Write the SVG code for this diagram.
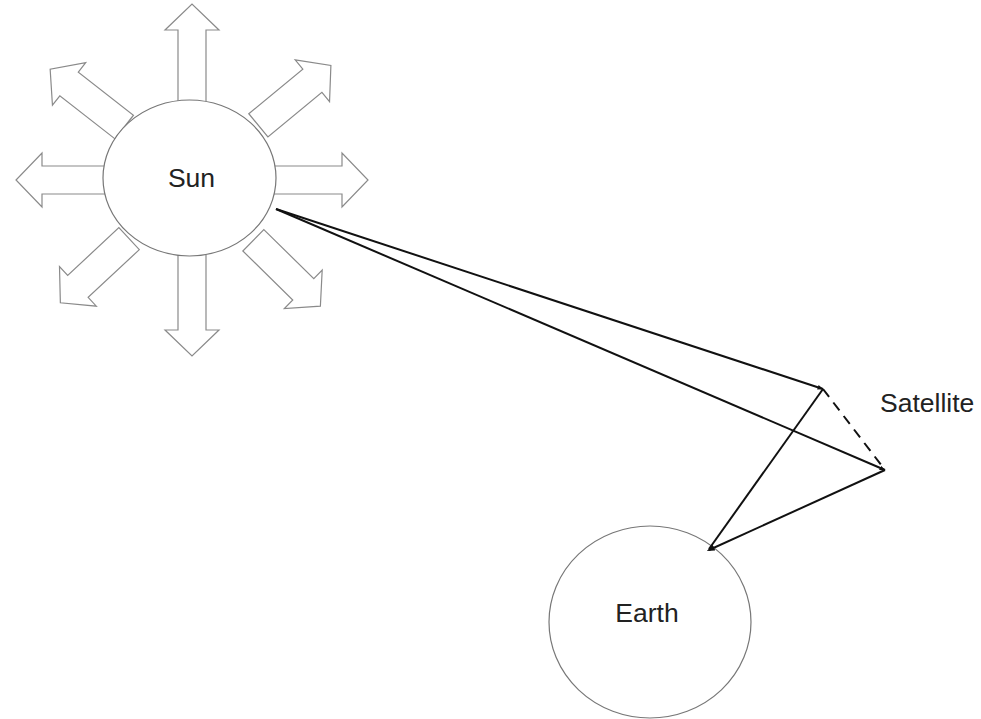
<svg xmlns="http://www.w3.org/2000/svg" width="981" height="719" viewBox="0 0 981 719">
<defs>
<style>
.ray{fill:#fff;stroke:#8a8a8a;stroke-width:1.2}
.body{fill:#fff;stroke:#777;stroke-width:1.2}
.lbl{font-family:"Liberation Sans",Arial,sans-serif;font-size:26.5px;fill:#222}
.ln{stroke:#111;stroke-width:2;fill:none}
</style>
<path id="ray" d="M60,-14 L150,-14 L150,-27 L176,0 L150,27 L150,14 L60,14 Z"/>
<path id="rayd" d="M86,-15 L156,-15 L156,-27 L180,0 L156,27 L156,15 L86,15 Z"/>
<marker id="ah" viewBox="0 0 10 10" refX="9" refY="5" markerWidth="6" markerHeight="6" orient="auto" markerUnits="userSpaceOnUse">
<path d="M0,1 L10,5 L0,9 Z" fill="#111"/>
</marker>
<marker id="sq" viewBox="0 0 10 10" refX="7" refY="5" markerWidth="8" markerHeight="8" orient="auto" markerUnits="userSpaceOnUse">
<path d="M0,1 L10,5 L0,9 Z" fill="#111"/>
</marker>
</defs>
<rect width="981" height="719" fill="#fff"/>
<g id="sun">
<g transform="translate(192,180)">
<use href="#ray" class="ray" transform="rotate(0)"/>
<use href="#ray" class="ray" transform="rotate(-90)"/>
<use href="#ray" class="ray" transform="rotate(180)"/>
<use href="#ray" class="ray" transform="rotate(90)"/>
<use href="#rayd" class="ray" transform="rotate(-39.5)"/>
<use href="#rayd" class="ray" transform="rotate(-142)"/>
<use href="#rayd" class="ray" transform="rotate(44.5)"/>
<use href="#rayd" class="ray" transform="rotate(137)"/>
</g>
<ellipse class="body" cx="189.5" cy="178" rx="86.5" ry="78"/>
<text class="lbl" x="191.5" y="187" text-anchor="middle">Sun</text>
</g>
<g id="earth">
<ellipse class="body" cx="650" cy="622" rx="101" ry="96"/>
<text class="lbl" x="647" y="622" text-anchor="middle">Earth</text>
</g>
<g id="satellite">
<text class="lbl" x="880" y="412">Satellite</text>
</g>
<g id="connectors">
<line class="ln" x1="276" y1="209" x2="823" y2="389" marker-end="url(#ah)"/>
<line class="ln" x1="276" y1="209" x2="885" y2="470" marker-end="url(#ah)"/>
<line class="ln" x1="709" y1="549" x2="823" y2="389"/>
<line class="ln" x1="885" y1="470" x2="709" y2="550" marker-end="url(#sq)"/>
<line class="ln" x1="823" y1="389" x2="885" y2="470" stroke-dasharray="10,7"/>
</g>
</svg>
